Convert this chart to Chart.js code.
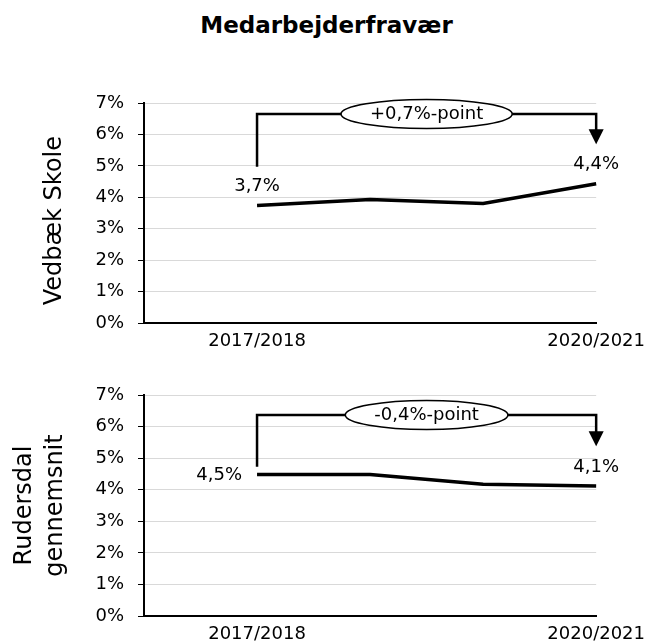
<!DOCTYPE html>
<html>
<head>
<meta charset="utf-8">
<script src="https://cdn.jsdelivr.net/npm/chart.js@4.4.0/dist/chart.umd.min.js"></script>
<style>
body{margin:0;background:#fff;width:653px;height:641px;position:relative;overflow:hidden;font-family:'DejaVu Sans',Verdana,sans-serif}
#title{position:absolute;left:0;top:12px;width:653px;text-align:center;font-weight:bold;font-size:23px;color:#000}
.box{position:absolute;left:0;width:653px}
</style>
</head>
<body>
<div id="title">Medarbejderfravær</div>
<div class="box" style="top:60px;height:290px"><canvas id="c1"></canvas></div>
<div class="box" style="top:352px;height:289px"><canvas id="c2"></canvas></div>
<script>
// first category is empty so the series starts one step in from the axis
var tickLabels = ['', '2017/2018', '', '', '2020/2021'];
var vedbaek = [null, 3.74, 3.93, 3.80, 4.43];
var rudersdal = [null, 4.48, 4.48, 4.17, 4.12];

var vedbaekTitle = 'Vedbæk Skole  ';
var rudersdalTitle = ['Rudersdal', 'gennemsnit'];

var vedbaekLabels = ['3,7%', '4,4%'];
var rudersdalLabels = ['4,5%', '4,1%'];
var vedbaekChange = '+0,7%-point';
var rudersdalChange = '-0,4%-point';

// bracket: start level, top level, arrow tip level (in %)
var vedbaekBracket = [4.97, 6.65, 5.69];
var rudersdalBracket = [4.73, 6.37, 5.38];

Chart.defaults.font.family = "'DejaVu Sans', Verdana, sans-serif";
Chart.defaults.font.size = 18;
Chart.defaults.color = '#000';

var bracketPlugin = {
	id: 'bracket',
	afterDatasetsDraw: function(chart) {
		var o = chart.options.plugins.bracket;
		var y = chart.scales.y, ctx = chart.ctx;
		var meta = chart.getDatasetMeta(0);
		var p0 = meta.data[1], p1 = meta.data[meta.data.length - 1];
		var x0 = p0.x, x1 = p1.x;
		var yS = y.getPixelForValue(o.levels[0]);
		var yT = y.getPixelForValue(o.levels[1]);
		var yA = y.getPixelForValue(o.levels[2]);
		ctx.save();
		ctx.strokeStyle = '#000';
		ctx.fillStyle = '#000';
		ctx.lineWidth = 2.5;
		ctx.beginPath();
		ctx.moveTo(x0, yS);
		ctx.lineTo(x0, yT);
		ctx.lineTo(x1, yT);
		ctx.lineTo(x1, yA - 13);
		ctx.stroke();
		ctx.beginPath();
		ctx.moveTo(x1 - 7.5, yA - 15);
		ctx.lineTo(x1 + 7.5, yA - 15);
		ctx.lineTo(x1, yA);
		ctx.closePath();
		ctx.fill();

		ctx.font = "18px 'DejaVu Sans', Verdana, sans-serif";
		var w = ctx.measureText(o.text).width;
		var cx = (x0 + x1) / 2;
		ctx.beginPath();
		ctx.ellipse(cx, yT, w / 2 + 29, 14.5, 0, 0, Math.PI * 2);
		ctx.fillStyle = '#fff';
		ctx.fill();
		ctx.lineWidth = 1.5;
		ctx.stroke();
		ctx.fillStyle = '#000';
		ctx.textAlign = 'center';
		ctx.textBaseline = 'middle';
		ctx.fillText(o.text, cx, yT);

		// value labels at first and last point
		var pts = [p0, p1];
		for (var i = 0; i < 2; i++) {
			if (o.sides[i] == 'left') {
				ctx.textAlign = 'right';
				ctx.fillText(o.labels[i], pts[i].x - 15, pts[i].y + 1);
			} else {
				ctx.textAlign = 'center';
				ctx.fillText(o.labels[i], pts[i].x, pts[i].y - 19);
			}
		}
		ctx.restore();
	}
};

function makeChart(id, values, title, titlePad, bracket, labels, sides, change, xh) {
	return new Chart(document.getElementById(id), {
		type: 'line',
		data: {
			labels: tickLabels,
			datasets: [{
				data: values,
				borderColor: '#000',
				borderWidth: 3.5,
				pointRadius: 0,
				tension: 0,
				fill: false
			}]
		},
		options: {
			responsive: true,
			maintainAspectRatio: false,
			animation: false,
			layout: { padding: { top: 43, right: 53, left: 0, bottom: 0 } },
			plugins: {
				legend: { display: false },
				tooltip: { enabled: false },
				bracket: { levels: bracket, text: change, labels: labels, sides: sides }
			},
			scales: {
				x: {
					grid: { display: false, drawTicks: false },
					border: { color: '#000', width: 2 },
					ticks: { color: '#000', padding: 8, autoSkip: false, maxRotation: 0 },
					afterFit: function(s) { s.height = xh; }
				},
				y: {
					min: 0,
					max: 7,
					ticks: {
						stepSize: 1,
						color: '#000',
						padding: 14,
						callback: function(v) { return v + '%'; }
					},
					grid: { color: '#d9d9d9', tickColor: '#000', tickLength: 6, lineWidth: 1 },
					border: { color: '#000', width: 2 },
					title: {
						display: true,
						text: title,
						color: '#000',
						font: { size: 24, lineHeight: 1.3 },
						padding: { top: titlePad, bottom: 0 }
					},
					afterFit: function(s) { s.width = 144; }
				}
			}
		},
		plugins: [bracketPlugin]
	});
}

makeChart('c1', vedbaek, vedbaekTitle, 39, vedbaekBracket, vedbaekLabels, ['above', 'above'], vedbaekChange, 27);
makeChart('c2', rudersdal, rudersdalTitle, 9, rudersdalBracket, rudersdalLabels, ['left', 'above'], rudersdalChange, 25);
</script>
</body>
</html>
